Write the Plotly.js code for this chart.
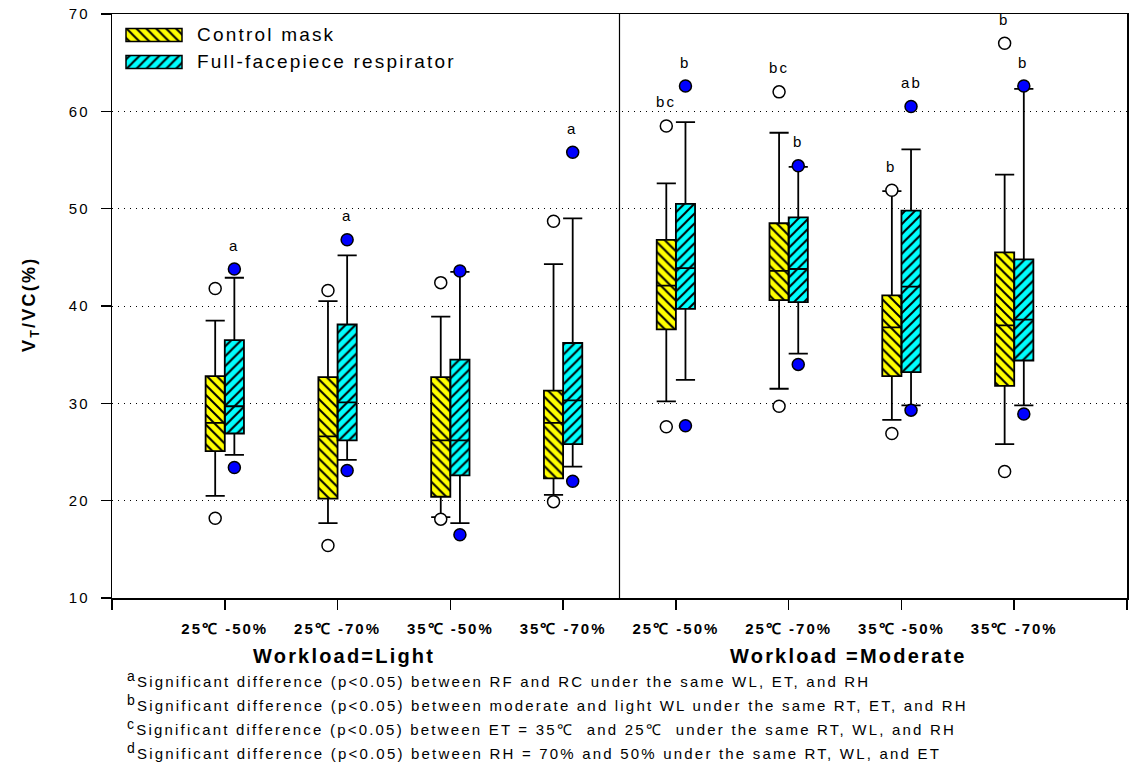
<!DOCTYPE html>
<html><head><meta charset="utf-8">
<script src="https://cdn.plot.ly/plotly-3.0.1.min.js"></script>
<style>
html,body{margin:0;padding:0;background:#fff;}
#chart{width:1129px;height:776px;}
.xtick text,.ytick text{letter-spacing:2px;}
.annotation-text{letter-spacing:2.2px;}
</style></head><body><div id="chart"></div>
<script>
// ---- data ----
const categories = ['25℃ -50%', '25℃ -70%', '35℃ -50%', '35℃ -70%', '25℃ -50%', '25℃ -70%', '35℃ -50%', '35℃ -70%'];
const workloadLabels = ['Workload=Light', 'Workload =Moderate'];
const seriesNames = ['Control mask', 'Full-facepiece respirator'];

const controlQ1     = [25.1, 20.2, 20.4, 22.3, 37.6, 40.6, 32.8, 31.8];
const controlMedian = [28.0, 26.6, 26.2, 28.0, 42.1, 43.6, 37.8, 38.0];
const controlQ3     = [32.8, 32.7, 32.7, 31.3, 46.8, 48.5, 41.1, 45.5];
const controlLow    = [20.5, 17.7, 18.3, 20.6, 30.2, 31.5, 28.3, 25.8];
const controlHigh   = [38.5, 40.5, 38.9, 44.3, 52.6, 57.8, 51.8, 53.5];
const controlOutliers = [[41.8, 18.2], [41.6, 15.4], [42.4, 18.1], [48.7, 19.9], [58.5, 27.6], [62.0, 29.7], [51.9, 26.9], [67.0, 23.0]];

const respQ1     = [26.9, 26.2, 22.6, 25.8, 39.7, 40.4, 33.2, 34.4];
const respMedian = [29.7, 30.1, 26.2, 30.3, 43.9, 43.8, 42.0, 38.6];
const respQ3     = [36.5, 38.1, 34.5, 36.2, 50.5, 49.1, 49.8, 44.8];
const respLow    = [24.7, 24.2, 17.7, 23.5, 32.4, 35.1, 29.8, 29.8];
const respHigh   = [42.9, 45.2, 43.5, 49.0, 58.9, 54.3, 56.1, 62.3];
const respOutliers = [[43.8, 23.4], [46.8, 23.1], [43.6, 16.5], [55.8, 22.0], [62.6, 27.7], [54.4, 34.0], [60.5, 29.3], [62.6, 28.9]];

const controlSig = ['', '', '', '', 'bc', 'bc', 'b', 'b'];
const respSig    = ['a', 'a', '', 'a', 'b', 'b', 'ab', 'b'];

const yTicks = [10, 20, 30, 40, 50, 60, 70];
const footnotes = [
  ['a', 'Significant difference (p<0.05) between RF and RC under the same WL, ET, and RH'],
  ['b', 'Significant difference (p<0.05) between moderate and light WL under the same RT, ET, and RH'],
  ['c', 'Significant difference (p<0.05) between ET = 35℃  and 25℃  under the same RT, WL, and RH'],
  ['d', 'Significant difference (p<0.05) between RH = 70% and 50% under the same RT, WL, and ET']
];

// ---- styling ----
const FONT = 'Liberation Sans, Arial, sans-serif';
const W = 0.17;
const YELLOW = '#ffff00', CYAN = '#00ffff', BLUE = '#0000ff';
const L = 112, R = 2, T = 14, B = 178, WIDTH = 1129, HEIGHT = 776;
const PW = WIDTH - L - R, PH = HEIGHT - T - B;
const px = q => (q - L) / PW;
const py = p => (HEIGHT - B - p) / PH;

const pos = categories.map((c, i) => i + 1);
const xCtrl = pos.map(x => x - W / 2);
const xResp = pos.map(x => x + W / 2);

function pat(shape, bg) {
  return {shape: shape, fgcolor: '#000', bgcolor: bg, fillmode: 'replace', size: 7, solidity: 0.28};
}
function patternBar(xp, q1, q3, color, shape) {
  return {type: 'bar', x: xp, base: q1, y: q3.map((v, i) => v - q1[i]), width: xp.map(() => W),
    marker: {color: color, line: {width: 0}, pattern: pat(shape, color)},
    hoverinfo: 'skip', showlegend: false};
}
function boxTrace(xp, q1, med, q3, lo, hi, name) {
  return {type: 'box', name: name, x: xp, q1: q1, median: med, q3: q3, lowerfence: lo, upperfence: hi,
    width: W, whiskerwidth: 1, fillcolor: 'rgba(0,0,0,0)', line: {color: '#000', width: 1.8},
    boxpoints: false, showlegend: false};
}
function outlierTrace(xp, outs, fill) {
  const x = [], y = [];
  outs.forEach((arr, i) => arr.forEach(v => { x.push(xp[i]); y.push(v); }));
  return {type: 'scatter', mode: 'markers', x: x, y: y, showlegend: false,
    marker: {size: 12, color: fill, line: {color: '#000', width: 1.5}}};
}
function swatch(yc, color, shape) {
  return {type: 'bar', orientation: 'h', xaxis: 'x2', yaxis: 'y2', y: [yc], x: [px(182) - px(126)], base: [px(126)],
    width: [13 / PH], marker: {color: color, line: {color: '#000', width: 1.5}, pattern: pat(shape, color)},
    hoverinfo: 'skip', showlegend: false};
}

const traces = [
  patternBar(xCtrl, controlQ1, controlQ3, YELLOW, '\\'),
  patternBar(xResp, respQ1, respQ3, CYAN, '/'),
  boxTrace(xCtrl, controlQ1, controlMedian, controlQ3, controlLow, controlHigh, seriesNames[0]),
  boxTrace(xResp, respQ1, respMedian, respQ3, respLow, respHigh, seriesNames[1]),
  outlierTrace(xCtrl, controlOutliers, '#ffffff'),
  outlierTrace(xResp, respOutliers, BLUE),
  swatch(py(35), YELLOW, '\\'),
  swatch(py(62), CYAN, '/')
];

const annotations = [];
function sigAnn(xp, sig, high, outs) {
  sig.forEach((s, i) => {
    if (!s) return;
    const top = Math.max(high[i], ...outs[i]);
    annotations.push({x: xp[i], y: top, xref: 'x', yref: 'y', text: s, showarrow: false,
      yshift: 24, xanchor: 'center', yanchor: 'middle', font: {family: FONT, size: 15, color: '#000'}});
  });
}
sigAnn(xCtrl, controlSig, controlHigh, controlOutliers);
sigAnn(xResp, respSig, respHigh, respOutliers);

// legend texts
annotations.push({xref: 'paper', yref: 'paper', x: px(195), y: py(35), xanchor: 'left', yanchor: 'middle',
  text: seriesNames[0], showarrow: false, font: {family: FONT, size: 19, color: '#000'}});
annotations.push({xref: 'paper', yref: 'paper', x: px(195), y: py(61), xanchor: 'left', yanchor: 'middle',
  text: seriesNames[1], showarrow: false, font: {family: FONT, size: 19, color: '#000'}});

// y title
annotations.push({xref: 'paper', yref: 'paper', x: px(30), y: py(305), xanchor: 'center', yanchor: 'middle',
  textangle: -90, text: '<b>V<sub>T</sub>/VC(%)</b>', showarrow: false, font: {family: FONT, size: 18, color: '#000'}});

// workload labels
annotations.push({xref: 'paper', yref: 'paper', x: px(344), y: py(656), xanchor: 'center', yanchor: 'middle',
  text: '<b>' + workloadLabels[0] + '</b>', showarrow: false, font: {family: FONT, size: 20, color: '#000'}});
annotations.push({xref: 'paper', yref: 'paper', x: px(848), y: py(656), xanchor: 'center', yanchor: 'middle',
  text: '<b>' + workloadLabels[1] + '</b>', showarrow: false, font: {family: FONT, size: 20, color: '#000'}});

// footnotes
footnotes.forEach((f, i) => {
  annotations.push({xref: 'paper', yref: 'paper', x: px(125), y: py(679 + 24 * i), xanchor: 'left', yanchor: 'middle',
    text: '<sup><span style="font-size:14px">' + f[0] + '</span></sup>' + f[1].replace(/</g, '&lt;'), showarrow: false,
    font: {family: FONT, size: 15, color: '#000'}});
});

const layout = {
  width: WIDTH, height: HEIGHT,
  margin: {l: L, r: R, t: T, b: B},
  paper_bgcolor: '#fff', plot_bgcolor: '#fff',
  font: {family: FONT, color: '#000'},
  showlegend: false,
  barmode: 'overlay', boxmode: 'overlay',
  xaxis: {range: [0, categories.length + 1], tickmode: 'array', tickvals: pos,
    ticktext: categories.map(c => '<b>' + c + '</b>'),
    ticks: 'outside', ticklen: 10, tickwidth: 1.5, tickcolor: '#000', ticklabelstandoff: 6,
    minor: {tickmode: 'array', tickvals: [0, categories.length + 1], ticks: 'outside', ticklen: 10, tickwidth: 1.5,
      tickcolor: '#000', showgrid: false},
    showline: true, linecolor: '#000', linewidth: 1.5, mirror: true, showgrid: false, zeroline: false,
    tickfont: {family: FONT, size: 15, color: '#000'}},
  yaxis: {range: [10, 70], tickmode: 'array', tickvals: yTicks, ticks: 'outside', ticklen: 10, tickwidth: 1.5,
    tickcolor: '#000', ticklabelstandoff: 8,
    showline: true, linecolor: '#000', linewidth: 1.5, mirror: true, showgrid: true, gridcolor: '#000',
    griddash: '1px,5px', gridwidth: 1, zeroline: false, tickfont: {family: FONT, size: 15, color: '#000'}},
  xaxis2: {overlaying: 'x', range: [0, 1], visible: false, fixedrange: true},
  yaxis2: {overlaying: 'y', range: [0, 1], visible: false, fixedrange: true},
  shapes: [{type: 'line', xref: 'x', yref: 'paper', x0: 4.5, x1: 4.5, y0: 0, y1: 1, line: {color: '#000', width: 1.2}}],
  annotations: annotations
};

Plotly.newPlot('chart', traces, layout, {displayModeBar: false, staticPlot: true});
</script></body></html>
